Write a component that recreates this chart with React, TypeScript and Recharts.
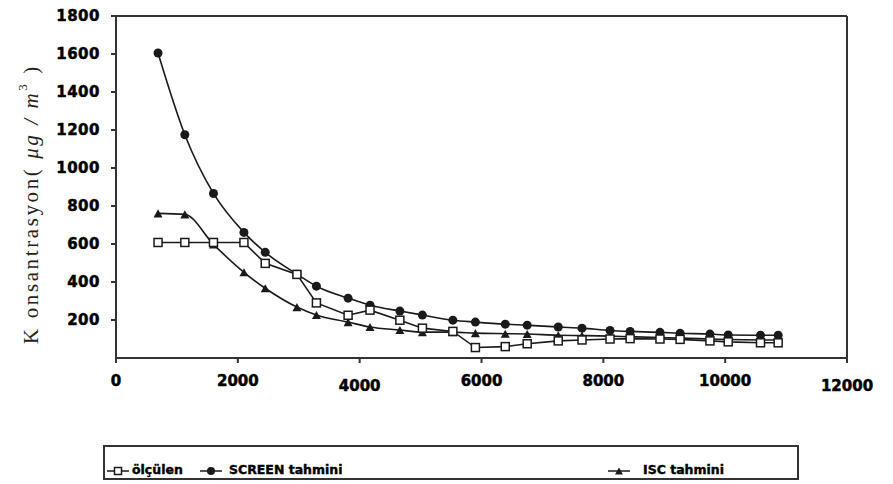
import { Line, LineChart, ReferenceLine, XAxis, YAxis } from "recharts";

// distances (m) shared by the three series
const distances = [
  690, 1130, 1600, 2100, 2450, 2970, 3290, 3810, 4170, 4660, 5030, 5530, 5900,
  6390, 6750, 7260, 7650, 8110, 8440, 8930, 9260, 9750, 10050, 10580, 10870,
];

const measured = [
  608, 608, 608, 608, 498, 440, 290, 225, 252, 199, 157, 140, 55,
  60, 75, 90, 95, 100, 102, 100, 98, 90, 85, 80, 80,
];

const screen = [
  1605, 1175, 866, 661, 556, 441, 378, 315, 278, 247, 226, 199, 189,
  178, 173, 163, 157, 145, 140, 135, 130, 126, 121, 120, 120,
];

const isc = [
  761, 756, 598, 451, 367, 268, 226, 189, 163, 147, 136, 136, 131,
  128, 126, 120, 118, 115, 112, 108, 105, 100, 97, 95, 95,
];

const xTicks = [0, 2000, 4000, 6000, 8000, 10000, 12000];
const yTicks = [200, 400, 600, 800, 1000, 1200, 1400, 1600, 1800];
const loweredXTicks = [4000, 12000];

const seriesNames = ["ölçülen", "SCREEN tahmini", "ISC tahmini"];

const data = distances.map((x, i) => ({
  x,
  measured: measured[i],
  screen: screen[i],
  isc: isc[i],
}));

const INK = "#1a1a1a";
const tickFont = "'DejaVu Sans', Verdana, sans-serif";

function SquareMark({ cx, cy, size = 8 }: { cx: number; cy: number; size?: number }) {
  return (
    <rect
      x={cx - size / 2}
      y={cy - size / 2}
      width={size}
      height={size}
      fill="#fff"
      stroke={INK}
      strokeWidth={1.5}
    />
  );
}

function CircleMark({ cx, cy, r = 4.5 }: { cx: number; cy: number; r?: number }) {
  return <circle cx={cx} cy={cy} r={r} fill={INK} />;
}

function TriangleMark({ cx, cy, s = 9 }: { cx: number; cy: number; s?: number }) {
  const h = s * 0.9;
  return (
    <polygon
      points={`${cx},${cy - h / 2} ${cx + s / 2},${cy + h / 2} ${cx - s / 2},${cy + h / 2}`}
      fill={INK}
    />
  );
}

function XTick({ x, y, payload }: any) {
  const extra = loweredXTicks.includes(payload.value) ? 5 : 0;
  return (
    <text
      x={x}
      y={y + extra}
      dy="0.71em"
      textAnchor="middle"
      fontFamily={tickFont}
      fontWeight="bold"
      fontSize={15}
      stroke="#000"
      strokeWidth={0.5}
      fill="#000"
    >
      {payload.value}
    </text>
  );
}

function YTick({ x, y, payload }: any) {
  return (
    <text
      x={x}
      y={y}
      dy="0.36em"
      textAnchor="end"
      fontFamily={tickFont}
      fontWeight="bold"
      fontSize={15}
      letterSpacing={0.5}
      stroke="#000"
      strokeWidth={0.5}
      fill="#000"
    >
      {payload.value}
    </text>
  );
}

function YTitle() {
  return (
    <text
      x={31}
      y={204}
      transform="rotate(-90, 31, 204)"
      textAnchor="middle"
      dominantBaseline="central"
      fontFamily="'Liberation Serif', 'Times New Roman', serif"
      fontSize={21}
      letterSpacing={2.6}
      fill="#222"
    >
      K onsantrasyon(<tspan fontStyle="italic"> μg / m</tspan>
      <tspan dy={-9} fontSize={13}>3</tspan>
      <tspan dy={9}> )</tspan>
    </text>
  );
}

function LegendBox() {
  const item = (left: number, label: string, mark: React.ReactNode, textLeft: number) => (
    <>
      <svg
        width={22}
        height={12}
        style={{ position: "absolute", left, top: 18 }}
      >
        <line x1={0} y1={6} x2={22} y2={6} stroke={INK} strokeWidth={1.5} />
        {mark}
      </svg>
      <span
        style={{
          position: "absolute",
          left: textLeft,
          top: 15,
          fontFamily: tickFont,
          fontWeight: "bold",
          fontSize: 12.5,
          lineHeight: "16px",
          whiteSpace: "nowrap",
          WebkitTextStroke: "0.4px #000",
        }}
      >
        {label}
      </span>
    </>
  );
  return (
    <div
      style={{
        position: "absolute",
        left: 103,
        top: 445,
        width: 692,
        height: 31,
        boxSizing: "content-box",
        border: "2px solid #333",
        background: "#fff",
      }}
    >
      {item(2, seriesNames[0], <SquareMark cx={11} cy={6} size={7} />, 27)}
      {item(95, seriesNames[1], <CircleMark cx={11} cy={6} r={4} />, 124)}
      {item(503, seriesNames[2], <TriangleMark cx={11} cy={6} s={8} />, 538)}
    </div>
  );
}

export default function App() {
  return (
    <div
      style={{
        position: "absolute",
        left: 0,
        top: 0,
        width: 893,
        height: 484,
        overflow: "hidden",
        background: "#fff",
      }}
    >
      <LineChart
        width={893}
        height={484}
        data={data}
        margin={{ top: 16, right: 46, bottom: 96, left: 0 }}
      >
        <XAxis
          dataKey="x"
          type="number"
          domain={[0, 12000]}
          ticks={xTicks}
          interval={0}
          height={30}
          tickSize={5}
          tickMargin={12}
          stroke="#333"
          strokeWidth={2}
          tick={<XTick />}
        />
        <YAxis
          type="number"
          domain={[0, 1800]}
          ticks={yTicks}
          interval={0}
          width={116}
          tickSize={5}
          tickMargin={11}
          stroke="#333"
          strokeWidth={2}
          tick={<YTick />}
          label={<YTitle />}
        />
        <ReferenceLine x={12000} stroke="#333" strokeWidth={2} />
        <ReferenceLine y={1800} stroke="#333" strokeWidth={2} />
        <Line
          type="monotone"
          dataKey="isc"
          name={seriesNames[2]}
          stroke={INK}
          strokeWidth={1.6}
          isAnimationActive={false}
          dot={(p: any) => <TriangleMark key={`i-${p.index}`} cx={p.cx} cy={p.cy} />}
        />
        <Line
          type="monotone"
          dataKey="screen"
          name={seriesNames[1]}
          stroke={INK}
          strokeWidth={1.6}
          isAnimationActive={false}
          dot={(p: any) => <CircleMark key={`s-${p.index}`} cx={p.cx} cy={p.cy} />}
        />
        <Line
          type="linear"
          dataKey="measured"
          name={seriesNames[0]}
          stroke={INK}
          strokeWidth={1.6}
          isAnimationActive={false}
          dot={(p: any) => <SquareMark key={`m-${p.index}`} cx={p.cx} cy={p.cy} />}
        />
      </LineChart>
      <LegendBox />
    </div>
  );
}
